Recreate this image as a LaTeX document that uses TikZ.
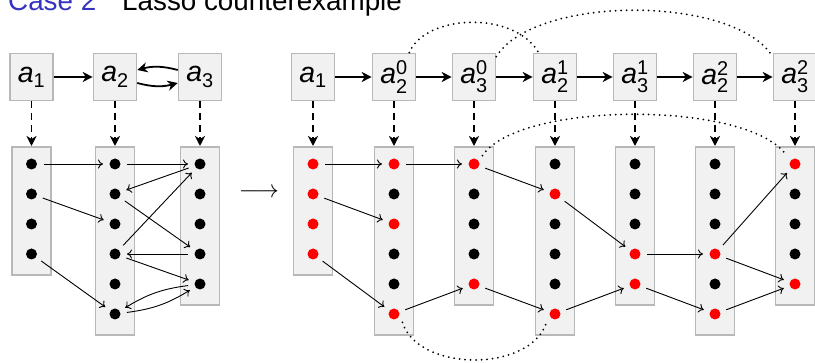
\documentclass[tikz,border=0pt]{standalone}
\usepackage{fontspec}
\setmainfont{Liberation Sans}
\usepackage{amsmath}
\usetikzlibrary{arrows.meta}
\definecolor{boxfill}{gray}{0.945}
\definecolor{boxline}{gray}{0.72}
\definecolor{titleblue}{rgb}{0.2,0.2,0.75}
\tikzset{
  topbox/.style={draw=boxline, fill=boxfill, line width=1.6pt, minimum width=43pt, minimum height=47pt, inner sep=0pt, font=\fontsize{28.5}{34}\selectfont},
  colbox/.style={draw=boxline, fill=boxfill, line width=1.6pt, minimum width=39pt, anchor=north, inner sep=0pt},
  kd/.style={circle, fill=black, minimum size=11pt, inner sep=0pt, outer sep=6.5pt},
  rd/.style={kd, fill=red},
  bigarrow/.style={line width=1.8pt, -{Stealth[length=10pt,width=10pt,inset=3pt]}},
  dasharrow/.style={bigarrow, dash pattern=on 7pt off 5pt},
  thinarrow/.style={line width=0.9pt, -{To[length=5pt,width=9pt]}},
  loopdots/.style={line width=2pt, dash pattern=on 0pt off 5.5pt, line cap=round},
  titletext/.style={anchor=base west, inner sep=0pt, font=\fontsize{27.8}{33}\selectfont},
}
\begin{document}
\begin{tikzpicture}[x=1pt, y=-1pt]
\useasboundingbox (0,0) rectangle (815,363);

% title
\node[titletext, text=titleblue] (t1) at (8,11) {Case 2};
\node[titletext] (t2) at (122,11) {Lasso counterexample};

% ---------- left part ----------
\node[topbox] (A1) at (31.5,77) {$\textit{a}_{\text{1}}$};
\node[topbox] (A2) at (115,77) {$\textit{a}_{\text{2}}$};
\node[topbox] (A3) at (200,77) {$\textit{a}_{\text{3}}$};
\draw[bigarrow] (A1) -- (A2);
\draw[bigarrow] ([yshift=7pt]A3.west) to[bend right=15] ([yshift=7pt]A2.east);
\draw[bigarrow] ([yshift=-6pt]A2.east) to[bend right=15] ([yshift=-6pt]A3.west);

\foreach \c/\x/\n in {1/31.5/4, 2/115/6, 3/200/5} {
  \node[colbox, minimum height={38+30*(\n-1)}] (L\c) at (\x,146) {};
  \draw[dasharrow] (A\c) -- (L\c);
  \foreach \i in {1,...,\n} \node[kd] (l\c-\i) at (\x,{164+30*(\i-1)}) {};
}
\draw[thinarrow] (l1-1) -- (l2-1);
\draw[thinarrow] (l1-2) -- (l2-3);
\draw[thinarrow] (l1-4) -- (l2-6);
\draw[thinarrow] (l2-1) -- (l3-1);
\draw[thinarrow] (l3-1) -- (l2-2);
\draw[thinarrow] (l2-2) -- (l3-4);
\draw[thinarrow] (l2-4) -- (l3-1);
\draw[thinarrow] (l3-4) -- (l2-4);
\draw[thinarrow] (l2-4) -- (l3-5);
\draw[thinarrow] (l3-5) to[bend right=12] (l2-6);
\draw[thinarrow] (l2-6) to[bend right=12] (l3-5);

\node[inner sep=0pt, font=\fontsize{28}{34}\selectfont] (lr) at (259,193) {$\longrightarrow$};

% ---------- right part ----------
\foreach \c/\x/\lab in {1/313/{_{\text{1}}}, 2/394/{^{\text{0}}_{\text{2}}}, 3/474/{^{\text{0}}_{\text{3}}}, 4/555/{^{\text{1}}_{\text{2}}}, 5/635/{^{\text{1}}_{\text{3}}}, 6/715/{^{\text{2}}_{\text{2}}}, 7/795/{^{\text{2}}_{\text{3}}}} {
  \node[topbox] (B\c) at (\x,77) {$\textit{a}\lab$};
}
\foreach \c [evaluate=\c as \d using int(\c+1)] in {1,...,6} \draw[bigarrow] (B\c) -- (B\d);

\foreach \c/\x/\n/\cols in {1/313/4/{rd,rd,rd,rd}, 2/394/6/{rd,kd,rd,kd,kd,rd}, 3/474/5/{rd,kd,kd,kd,rd}, 4/555/6/{kd,rd,kd,kd,kd,rd}, 5/635/5/{kd,kd,kd,rd,rd}, 6/715/6/{kd,kd,kd,rd,kd,rd}, 7/795/5/{rd,kd,kd,kd,rd}} {
  \node[colbox, minimum height={38+30*(\n-1)}] (R\c) at (\x,146) {};
  \draw[dasharrow] (B\c) -- (R\c);
  \foreach \s [count=\i] in \cols \node[\s] (r\c-\i) at (\x,{164+30*(\i-1)}) {};
}
\draw[thinarrow] (r1-1) -- (r2-1);
\draw[thinarrow] (r1-2) -- (r2-3);
\draw[thinarrow] (r1-4) -- (r2-6);
\draw[thinarrow] (r2-1) -- (r3-1);
\draw[thinarrow] (r2-6) -- (r3-5);
\draw[thinarrow] (r3-1) -- (r4-2);
\draw[thinarrow] (r3-5) -- (r4-6);
\draw[thinarrow] (r4-2) -- (r5-4);
\draw[thinarrow] (r4-6) -- (r5-5);
\draw[thinarrow] (r5-4) -- (r6-4);
\draw[thinarrow] (r5-5) -- (r6-6);
\draw[thinarrow] (r6-4) -- (r7-1);
\draw[thinarrow] (r6-4) -- (r7-5);
\draw[thinarrow] (r6-6) -- (r7-5);

% dotted loops
\draw[loopdots] ([xshift=-7pt]B2.north east) .. controls +(15,-38) and +(-25,-43) .. ([xshift=6pt]B4.north west);
\draw[loopdots] ([yshift=-4pt]B3.north east) .. controls +(38,-62) and +(-38,-62) .. ([yshift=-4pt]B7.north west);
\draw[loopdots] (r3-1.north east) .. controls +(37,-55) and +(-37,-55) .. (r7-1.north west);
\draw[loopdots] (r2-6.south east) .. controls +(16,50) and +(-16,50) .. (r4-6.south west);
\end{tikzpicture}
\end{document}
